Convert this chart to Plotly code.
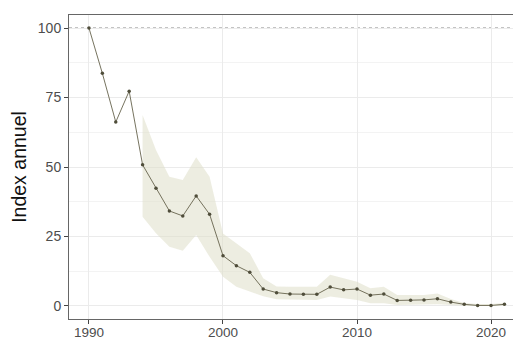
import plotly.graph_objects as go

# Annual index values (1990 = 100)
years = list(range(1990, 2022))
index_values = [100, 83.7, 66.2, 77.3, 50.8, 42.4, 34.2, 32.4, 39.6, 33.0,
                18.1, 14.5, 12.1, 6.1, 4.8, 4.3, 4.2, 4.2, 6.8, 5.8,
                6.1, 3.9, 4.3, 2.0, 2.1, 2.2, 2.6, 1.4, 0.6, 0.2,
                0.2, 0.6]

# Confidence band (available from 1994 onwards)
band_years = list(range(1994, 2022))
band_upper = [68.7, 56.1, 46.5, 45.3, 53.5, 46.5, 26.1, 22.5, 19.0, 10.0,
              7.0, 6.9, 6.9, 6.9, 11.2, 10.0, 8.7, 6.4, 6.9, 4.0,
              4.0, 4.0, 4.5, 2.5, 1.1, 0.7, 0.7, 1.1]
band_lower = [32.1, 26.2, 21.3, 19.9, 25.5, 17.7, 10.5, 6.9, 5.1, 3.5,
              2.4, 2.2, 2.2, 2.2, 3.4, 2.9, 2.2, 1.0, 1.0, 0.4,
              0.5, 0.5, 0.6, 0.3, 0.1, 0.0, 0.0, 0.1]

y_ticks = [0, 25, 50, 75, 100]
x_ticks = [1990, 2000, 2010, 2020]
y_title = "Index annuel"

fig = go.Figure()

fig.add_trace(go.Scatter(
    x=band_years + band_years[::-1],
    y=band_upper + band_lower[::-1],
    fill="toself", mode="lines", line=dict(width=0),
    fillcolor="rgba(222,222,200,0.55)", hoverinfo="skip", showlegend=False,
))

fig.add_trace(go.Scatter(
    x=years, y=index_values, mode="lines+markers",
    line=dict(color="#66634d", width=0.9),
    marker=dict(color="#4f4d3a", size=3.5),
    showlegend=False,
))

fig.add_shape(type="line", xref="paper", yref="y", x0=0, x1=1, y0=100, y1=100,
              line=dict(color="#7a7a7a", width=1, dash="dot"), layer="below")

font_family = "Liberation Sans, Arial, sans-serif"

fig.update_layout(
    width=513, height=340,
    margin=dict(l=69, r=0, t=15, b=21),
    paper_bgcolor="white", plot_bgcolor="white",
    font=dict(family=font_family, color="#4d4d4d", size=14),
    xaxis=dict(
        range=[1988.51, 2021.64], tickvals=x_ticks, automargin=False,
        showgrid=True, gridcolor="#ebebeb", gridwidth=1.2,
        zeroline=False, showline=True, mirror=True,
        linecolor="#666666", linewidth=1,
        ticks="outside", ticklen=4, tickcolor="#444444",
        tickfont=dict(size=13.5, color="#4d4d4d"),
        ticklabelstandoff=-3,
    ),
    yaxis=dict(
        range=[-4.68, 104.7], tickvals=y_ticks, automargin=False,
        showgrid=True, gridcolor="#ebebeb", gridwidth=1.2,
        minor=dict(tickvals=[12.5, 37.5, 62.5, 87.5], showgrid=True,
                   gridcolor="#f3f3f3", gridwidth=1, ticks=""),
        zeroline=False, showline=True, mirror=False,
        linecolor="#666666", linewidth=1,
        ticks="outside", ticklen=4, tickcolor="#444444",
        tickfont=dict(size=14, color="#4d4d4d"),
        title=dict(text=y_title, font=dict(size=19.5, color="#111111"), standoff=6),
    ),
)

fig.write_html("out.html")
